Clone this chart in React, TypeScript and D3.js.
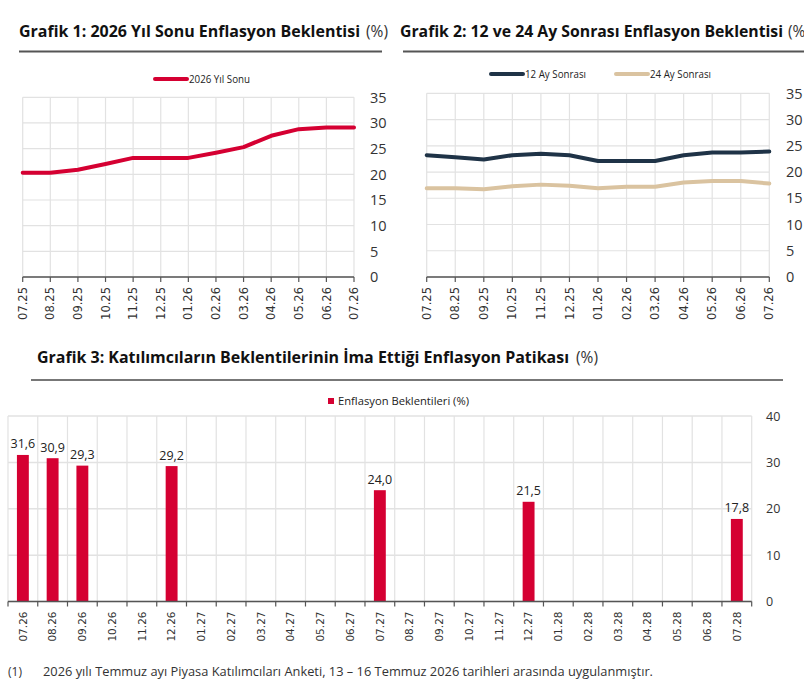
import React from "react";
import * as d3 from "d3";

// Survey months for the two line panels
const lineMonths = ["07.25", "08.25", "09.25", "10.25", "11.25", "12.25", "01.26", "02.26", "03.26", "04.26", "05.26", "06.26", "07.26"];
// 2026 year-end expectation (%)
const yearEnd2026 = [20.3, 20.3, 20.9, 22.0, 23.2, 23.2, 23.2, 24.2, 25.3, 27.5, 28.8, 29.1, 29.1];
// 12- and 24-month-ahead expectations (%)
const ahead12 = [23.2, 22.8, 22.4, 23.2, 23.5, 23.2, 22.1, 22.1, 22.1, 23.2, 23.7, 23.7, 23.9];
const ahead24 = [16.9, 16.9, 16.7, 17.3, 17.6, 17.4, 16.9, 17.2, 17.2, 18.0, 18.3, 18.3, 17.8];
const lineTicks = [0, 5, 10, 15, 20, 25, 30, 35];

// Implied inflation path
const pathMonths = ["07.26", "08.26", "09.26", "10.26", "11.26", "12.26", "01.27", "02.27", "03.27", "04.27", "05.27", "06.27", "07.27", "08.27", "09.27", "10.27", "11.27", "12.27", "01.28", "02.28", "03.28", "04.28", "05.28", "06.28", "07.28"];
const pathValues: (number | null)[] = [31.6, 30.9, 29.3, null, null, 29.2, null, null, null, null, null, null, 24.0, null, null, null, null, 21.5, null, null, null, null, null, null, 17.8];
const barTicks = [0, 10, 20, 30, 40];

const RED = "#d50032";
const NAVY = "#1f3347";
const TAN = "#dac3a0";
const GRID = "#e2e2e2";
const AXIS = "#555";
const TITLE_FONT = "'Open Sans', sans-serif";
const AXIS_FONT = "'DejaVu Sans', Verdana, sans-serif";

type Series = { name: string; values: number[]; color: string };

function LinePanel(props: {
  x0: number; x1: number; yTop: number; yBottom: number; labelX: number;
  series: Series[]; legend: { x: number; y: number; textX: number }[];
}) {
  const { x0, x1, yTop, yBottom, labelX, series, legend } = props;
  const x = d3.scalePoint<string>().domain(lineMonths).range([x0, x1]);
  const y = d3.scaleLinear().domain([0, 35]).range([yBottom, yTop]);
  const line = d3.line<number>().x((_, i) => x(lineMonths[i])!).y((d) => y(d));
  return (
    <g>
      {lineTicks.map((t) => (
        <line key={"h" + t} x1={x0} x2={x1} y1={y(t)} y2={y(t)} stroke={GRID} strokeWidth={1.2} />
      ))}
      {lineMonths.map((m) => (
        <line key={"v" + m} x1={x(m)} x2={x(m)} y1={yTop} y2={yBottom} stroke={GRID} strokeWidth={1.2} />
      ))}
      <line x1={x0} x2={x1} y1={yBottom} y2={yBottom} stroke={AXIS} strokeWidth={1.5} />
      {lineMonths.map((m) => (
        <g key={"t" + m}>
          <line x1={x(m)} x2={x(m)} y1={yBottom} y2={yBottom + 5} stroke={AXIS} strokeWidth={1.2} />
          <text
            transform={`translate(${x(m)},${yBottom + 10}) rotate(-90)`}
            textAnchor="end" dy="0.36em" fontFamily={AXIS_FONT} fontSize={11.5} fill="#333"
          >{m}</text>
        </g>
      ))}
      {lineTicks.map((t) => (
        <text key={"yl" + t} x={labelX} y={y(t)} dy="0.36em" fontFamily={TITLE_FONT} fontSize={14.5} fill="#333">{t}</text>
      ))}
      {series.map((s) => (
        <path key={s.name} d={line(s.values)!} fill="none" stroke={s.color} strokeWidth={4} strokeLinejoin="round" strokeLinecap="round" />
      ))}
      {series.map((s, i) => (
        <g key={"lg" + s.name}>
          <line x1={legend[i].x} x2={legend[i].x + 32} y1={legend[i].y} y2={legend[i].y} stroke={s.color} strokeWidth={4} strokeLinecap="round" />
          <text x={legend[i].textX} y={legend[i].y} dy="0.35em" fontFamily={TITLE_FONT} fontSize={10} fill="#222" textLength={61} lengthAdjust="spacingAndGlyphs">{s.name}</text>
        </g>
      ))}
    </g>
  );
}

function BarPanel() {
  const x0 = 8, x1 = 751.7, yTop = 416, yBottom = 601.5;
  const x = d3.scaleBand<string>().domain(pathMonths).range([x0, x1]).paddingInner(0.6).paddingOuter(0.3);
  const grid = d3.scaleBand<string>().domain(pathMonths).range([x0, x1]);
  const y = d3.scaleLinear().domain([0, 40]).range([yBottom, yTop]);
  const boundaries = [...pathMonths.map((m) => grid(m)!), x1];
  return (
    <g>
      {barTicks.map((t) => (
        <line key={"h" + t} x1={x0} x2={x1} y1={y(t)} y2={y(t)} stroke={GRID} strokeWidth={1.5} />
      ))}
      {boundaries.map((b, i) => (
        <line key={"v" + i} x1={b} x2={b} y1={yTop} y2={yBottom} stroke={GRID} strokeWidth={1.2} />
      ))}
      {pathMonths.map((m, i) => {
        const v = pathValues[i];
        if (v == null) return null;
        const cx = x(m)! + x.bandwidth() / 2;
        return (
          <g key={"b" + m}>
            <rect x={x(m)} y={y(v)} width={x.bandwidth()} height={yBottom - y(v)} fill={RED} />
            <text x={cx} y={y(v) - 11} dy="0.36em" textAnchor="middle" fontFamily={TITLE_FONT} fontSize={12.5} fill="#222">
              {v.toFixed(1).replace(".", ",")}
            </text>
          </g>
        );
      })}
      <line x1={x0} x2={x1} y1={yBottom} y2={yBottom} stroke={AXIS} strokeWidth={1.5} />
      {boundaries.map((b, i) => (
        <line key={"tk" + i} x1={b} x2={b} y1={yBottom} y2={yBottom + 5} stroke={AXIS} strokeWidth={1.2} />
      ))}
      {pathMonths.map((m) => (
        <text
          key={"xl" + m}
          transform={`translate(${grid(m)! + grid.bandwidth() / 2},${yBottom + 10}) rotate(-90)`}
          textAnchor="end" dy="0.36em" fontFamily={AXIS_FONT} fontSize={10.5} fill="#333"
        >{m}</text>
      ))}
      {barTicks.map((t) => (
        <text key={"yl" + t} x={766} y={y(t)} dy="0.36em" fontFamily={TITLE_FONT} fontSize={12.5} fill="#333">{t}</text>
      ))}
      <rect x={328} y={398} width={6} height={6} fill={RED} />
      <text x={338} y={401} dy="0.35em" fontFamily={TITLE_FONT} fontSize={11} fill="#222" textLength={131} lengthAdjust="spacingAndGlyphs">Enflasyon Beklentileri (%)</text>
    </g>
  );
}

export default function App() {
  return (
    <div style={{ position: "absolute", left: 0, top: 0 }}>
      <svg width={804} height={697} style={{ display: "block", background: "#fff" }}>
        {/* Panel 1 */}
        <text x={19} y={37} fontFamily={TITLE_FONT} fontWeight="bold" fontSize={16} fill="#111" textLength={341} lengthAdjust="spacingAndGlyphs">Grafik 1: 2026 Yıl Sonu Enflasyon Beklentisi</text>
        <text x={366} y={37} fontFamily={TITLE_FONT} fontSize={16} fill="#333" textLength={22} lengthAdjust="spacingAndGlyphs">(%)</text>
        <line x1={19} x2={382} y1={51.5} y2={51.5} stroke="#555" strokeWidth={2} />
        <LinePanel
          x0={22.7} x1={354} yTop={97.3} yBottom={277} labelX={370}
          series={[{ name: "2026 Yıl Sonu", values: yearEnd2026, color: RED }]}
          legend={[{ x: 155, y: 79, textX: 189 }]}
        />

        {/* Panel 2 */}
        <text x={400} y={37} fontFamily={TITLE_FONT} fontWeight="bold" fontSize={16} fill="#111" textLength={383} lengthAdjust="spacingAndGlyphs">Grafik 2: 12 ve 24 Ay Sonrası Enflasyon Beklentisi</text>
        <text x={788} y={37} fontFamily={TITLE_FONT} fontSize={16} fill="#333" textLength={22} lengthAdjust="spacingAndGlyphs">(%)</text>
        <line x1={403} x2={804} y1={51.5} y2={51.5} stroke="#555" strokeWidth={2} />
        <LinePanel
          x0={426.7} x1={769.3} yTop={93.3} yBottom={277} labelX={786}
          series={[
            { name: "12 Ay Sonrası", values: ahead12, color: NAVY },
            { name: "24 Ay Sonrası", values: ahead24, color: TAN },
          ]}
          legend={[{ x: 491, y: 74, textX: 525 }, { x: 616, y: 74, textX: 650 }]}
        />

        {/* Panel 3 */}
        <text x={37} y={363} fontFamily={TITLE_FONT} fontWeight="bold" fontSize={16} fill="#111" textLength={532} lengthAdjust="spacingAndGlyphs">Grafik 3: Katılımcıların Beklentilerinin İma Ettiği Enflasyon Patikası</text>
        <text x={576} y={363} fontFamily={TITLE_FONT} fontSize={16.5} fill="#333" textLength={22} lengthAdjust="spacingAndGlyphs">(%)</text>
        <line x1={31} x2={783} y1={380} y2={380} stroke="#777" strokeWidth={2} />
        <BarPanel />

        {/* Footnote */}
        <text x={8} y={676} fontFamily={TITLE_FONT} fontSize={12} fill="#333">(1)</text>
        <text x={43} y={676} fontFamily={TITLE_FONT} fontSize={12} fill="#333" textLength={610} lengthAdjust="spacingAndGlyphs">2026 yılı Temmuz ayı Piyasa Katılımcıları Anketi, 13 – 16 Temmuz 2026 tarihleri arasında uygulanmıştır.</text>
      </svg>
    </div>
  );
}
